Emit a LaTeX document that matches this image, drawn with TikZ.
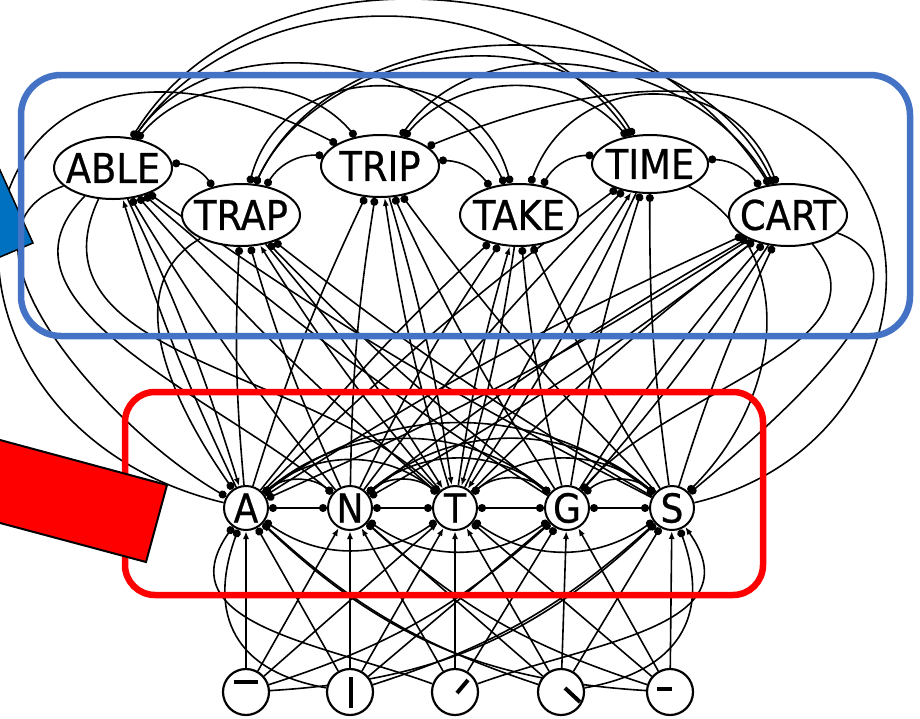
\documentclass[tikz,border=0pt]{standalone}
\usepackage{fontspec}
\newfontfamily\unitfont[FakeBold=0.6]{DejaVu Sans Condensed}
\usetikzlibrary{arrows.meta,shapes.geometric}
\pgfdeclarelayer{wires}
\pgfdeclarelayer{frames}
\pgfsetlayers{wires,main,frames}
\definecolor{wordframe}{HTML}{4472C4}
\definecolor{wordarrow}{HTML}{0070C0}
\definecolor{letterframe}{HTML}{FF0000}
\begin{document}
\begin{tikzpicture}[x=1pt,y=1pt,
  unitline/.style={draw=black,line width=2pt,fill=white,inner sep=0pt},
  wordunit/.style={unitline,ellipse,minimum width=118pt,minimum height=62pt,
    font=\unitfont\fontsize{41}{41}\selectfont},
  letterunit/.style={unitline,circle,minimum size=44pt,
    font=\unitfont\fontsize{40}{40}\selectfont},
  featureunit/.style={unitline,circle,minimum size=46pt,line width=2.2pt},
  featstroke/.style={line width=4pt},
  wire/.style={line width=1.6pt,black},
  mutual/.style={wire,{Circle[length=8pt]}-{Circle[length=8pt]}},
  inhib/.style={wire,-{Circle[length=8pt]}},
  excit/.style={wire,-{Latex[length=8pt,width=6pt]}},
]
\useasboundingbox (0,0) rectangle (920,-718);

% word units
\node[wordunit] (ABLE) at (113,-168) {\makebox[0pt]{ABLE}};
\node[wordunit] (TRAP) at (241,-215) {\makebox[0pt]{TRAP}};
\node[wordunit] (TRIP) at (380,-166) {\makebox[0pt]{TRIP}};
\node[wordunit] (TAKE) at (519,-215) {\makebox[0pt]{TAKE}};
\node[wordunit,minimum width=116pt,minimum height=58pt] (TIME) at (650,-164) {\makebox[0pt]{TIME}};
\node[wordunit] (CART) at (788,-215) {\makebox[0pt]{CART}};

% letter units
\foreach \ltr/\x in {A/246,N/350,T/455,G/567,S/672}
  \node[letterunit] (\ltr) at (\x,-508) {\makebox[0pt]{\ltr}};

% feature units
\foreach \k/\x in {1/246,2/350,3/455,4/561,5/670}
  \node[featureunit] (F\k) at (\x,-692) {};
\draw[featstroke] ([shift={(-12,10)}]F1.center) -- ([shift={(12,10)}]F1.center);
\draw[featstroke] ([shift={(1,15)}]F2.center) -- ([shift={(1,-16)}]F2.center);
\draw[featstroke] ([shift={(2,-1)}]F3.center) -- ([shift={(13,12)}]F3.center);
\draw[featstroke] ([shift={(4,4)}]F4.center) -- ([shift={(19,-10)}]F4.center);
\draw[featstroke] ([shift={(-13,3)}]F5.center) -- ([shift={(2,3)}]F5.center);

\begin{pgfonlayer}{wires}
  % mutual inhibition among word units
  \foreach \p/\q/\b in {ABLE/TRAP/25,TRAP/TRIP/30,TRIP/TAKE/25,TAKE/TIME/30,TIME/CART/25}
    \draw[mutual] (\p) to[bend left=\b] (\q);
  \foreach \p/\q/\o/\e/\s in {ABLE/TRIP/50/130/1,ABLE/TAKE/55/115/1,ABLE/TIME/55/125/1,
      ABLE/CART/58/122/1,TRAP/TAKE/75/105/1.3,TRAP/TIME/65/120/1,TRAP/CART/65/115/1,
      TRIP/TIME/50/130/1,TRIP/CART/55/120/1,TAKE/CART/70/110/1.3}
    \draw[mutual] (\p) to[out=\o,in=\e,looseness=\s] (\q);

  % letter-to-word connections
  \foreach \ltr/\wrd in {A/ABLE,T/TRAP,T/TRIP,T/TAKE,T/TIME}
    \draw[excit] (\ltr) to[bend left=4] (\wrd);
  \foreach \ltr/\wrd in {A/TRAP,A/TRIP,A/TAKE,A/TIME,A/CART,N/ABLE,N/TRAP,N/TRIP,N/TAKE,
      N/TIME,N/CART,T/ABLE,T/CART,G/ABLE,G/TRAP,G/TRIP,G/TAKE,G/TIME,G/CART,
      S/ABLE,S/TRAP,S/TRIP,S/TAKE,S/TIME,S/CART}
    \draw[inhib] (\ltr) to[bend left=4] (\wrd);

  % word-to-letter feedback
  \foreach \wrd/\ltr in {ABLE/A,TRAP/T,TRIP/T,TAKE/T,TIME/T}
    \draw[excit] (\wrd) to[bend left=4] (\ltr);
  \foreach \wrd/\ltr in {CART/A,CART/N,CART/G}
    \draw[inhib] (\wrd) to[bend left=4] (\ltr);

  % long connections around the sides of the word level
  \draw[inhib] (ABLE) to[out=200,in=150] (A);
  \draw[inhib] (ABLE) to[out=225,in=140] (N);
  \draw[inhib] (ABLE) to[out=245,in=135] (T);
  \draw[inhib] (TRAP) to[out=210,in=125] (A);
  \draw[inhib] (CART) to[out=-20,in=40] (S);
  \draw[inhib] (CART) to[out=-50,in=50] (G);
  \draw[inhib] (TIME) to[out=-30,in=45,looseness=1.1] (S);
  \draw[inhib] (A) .. controls (-120,-420) and (-60,60) .. (TRIP);
  \draw[inhib] (S) .. controls (1000,-430) and (960,70) .. (TRIP);

  % mutual inhibition among letter units
  \foreach \p/\q in {A/N,N/T,T/G,G/S} {
    \draw[mutual] (\p) -- (\q);
    \draw[mutual] (\p) to[bend left=40] (\q);
  }
  \foreach \p/\q/\b in {A/T/40,A/G/40,A/S/38,N/G/40,N/S/40,T/S/40}
    \draw[mutual] (\p) to[bend left=\b] (\q);
  \foreach \p/\q in {A/T,N/G,T/S}
    \draw[mutual] (\p) to[bend right=35] (\q);

  % feature-to-letter connections
  \foreach \k/\ltr in {1/A,2/N,3/T,4/G,5/S}
    \draw[excit] (F\k) -- (\ltr);
  \foreach \k/\ltr in {1/T,2/T,3/N,4/T,5/G,1/N}
    \draw[excit] (F\k) -- (\ltr);
  \foreach \k/\ltr in {2/G,3/G,4/N,5/T,2/A,4/S}
    \draw[inhib] (F\k) -- (\ltr);
  \draw[inhib] (F1) to[bend right=20] (S);
  \draw[excit] (F5) to[bend left=20] (A);
  \draw[inhib] (F1) to[bend right=12] (G);
  \draw[inhib] (F4) to[bend left=12] (A);
  \draw[excit] (F2) to[bend right=12] (S);
  \draw[inhib] (F5) to[bend left=12] (N);
  \draw[inhib] (F3) to[out=160,in=235,looseness=1.2] (A);
  \draw[inhib] (F2) to[out=170,in=250,looseness=1.3] (A);
  \draw[excit] (F3) to[out=20,in=-55,looseness=1.2] (S);
  \draw[inhib] (F4) to[out=10,in=-70,looseness=1.3] (S);
\end{pgfonlayer}

\begin{pgfonlayer}{frames}
  % pointer to the word level and its frame
  \filldraw[fill=wordarrow,draw=black,line width=1.5pt]
    (-20,-126) -- (33,-243) -- (-20,-265.5) -- cycle;
  \draw[wordframe,line width=6.5pt,rounded corners=40pt] (21,-75) rectangle (910,-336);
  % letter level frame and its pointer
  \draw[letterframe,line width=6.5pt,rounded corners=30pt] (125,-392) rectangle (763,-595);
  \filldraw[fill=letterframe,draw=black,line width=2pt]
    (-10,-437.3) -- (167,-485) -- (146,-562) -- (-10,-520.3) -- cycle;
\end{pgfonlayer}
\end{tikzpicture}
\end{document}
